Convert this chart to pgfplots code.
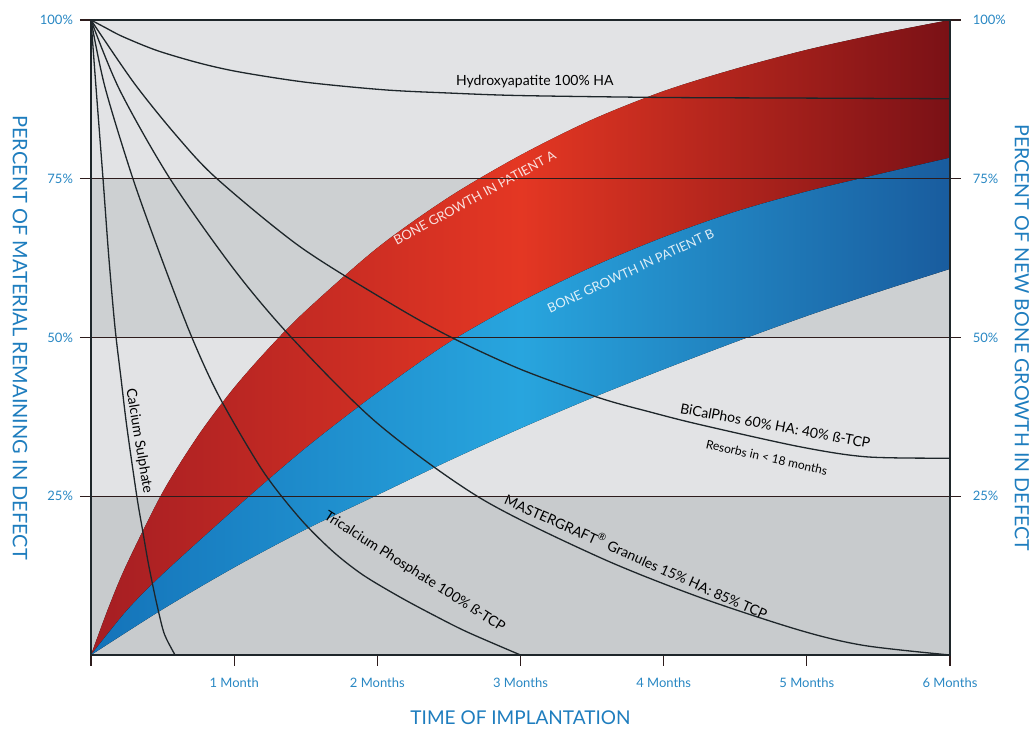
\documentclass[border=0pt]{standalone}
\usepackage{pgfplots}
\pgfplotsset{compat=1.18}
\usepgfplotslibrary{fillbetween}
\usepackage{fontspec}
\setmainfont{Lato}

\definecolor{bandlight}{RGB}{226,227,229}
\definecolor{banddark}{RGB}{205,208,210}
\definecolor{bandlow}{RGB}{200,203,205}
\definecolor{gridc}{RGB}{45,28,28}
\definecolor{curvec}{RGB}{30,38,42}
\definecolor{labblue}{RGB}{40,135,195}
\definecolor{titleblue}{RGB}{30,125,190}
\definecolor{redL}{RGB}{165,30,35}
\definecolor{redM}{RGB}{228,55,35}
\definecolor{redR}{RGB}{122,17,22}
\definecolor{bluL}{RGB}{20,115,185}
\definecolor{bluM}{RGB}{40,165,222}
\definecolor{bluR}{RGB}{25,92,158}

\begin{document}
\begin{tikzpicture}
\begin{axis}[
    at={(0,0)}, anchor=south west,
    scale only axis, width=429.5pt, height=317.5pt,
    xmin=0, xmax=6, ymin=0, ymax=100,
    axis on top, clip=false,
    axis line style={curvec, line width=0.6pt},
    xtick={0,...,6},
    xticklabels={,1 Month,2 Months,3 Months,4 Months,5 Months,6 Months},
    ytick={25,50,75,100},
    yticklabels={25\%,50\%,75\%,100\%},
    xtick pos=left, ytick pos=both,
    tick align=outside,
    major tick length=5.5pt,
    tick style={gridc, line width=0.6pt},
    ymajorgrids, grid style={gridc, line width=0.7pt},
    ticklabel style={font=\fontsize{6.5}{7}\selectfont, text=labblue},
    xticklabel style={yshift=-2.5pt},
]
% background bands (fill between, so they sit on the same layer as the growth bands)
\addplot[name path=g0, draw=none] coordinates {(0,0) (6,0)};
\addplot[name path=g25, draw=none] coordinates {(0,25) (6,25)};
\addplot[name path=g50, draw=none] coordinates {(0,50) (6,50)};
\addplot[name path=g75, draw=none] coordinates {(0,75) (6,75)};
\addplot[name path=g100, draw=none] coordinates {(0,100) (6,100)};
\addplot[fill=bandlow, draw=none] fill between[of=g0 and g25];
\addplot[fill=bandlight, draw=none] fill between[of=g25 and g50];
\addplot[fill=banddark, draw=none] fill between[of=g50 and g75];
\addplot[fill=bandlight, draw=none] fill between[of=g75 and g100];

% bone growth bands
\addplot[name path=At, draw=none, smooth] coordinates {
 (0,0) (0.125,7.6) (0.25,14.3) (0.5,25.6) (0.75,34.6) (1.0,42.1) (1.25,48.5)
 (1.5,54.2) (2.0,64.1) (2.5,72.1) (3.0,78.7) (3.5,84.3) (4.0,88.8) (4.5,92.3)
 (5.0,95.3) (5.5,97.8) (6,100)};
\addplot[name path=Ab, draw=none, smooth] coordinates {
 (0,0) (0.25,7) (0.5,12.7) (1.0,22.9) (1.5,32.6) (2.0,41.3) (2.5,49.2)
 (3.0,55.6) (3.5,61.1) (4.0,65.8) (4.5,69.8) (5.0,73.0) (5.5,75.7) (6,78.3)};
\addplot[name path=Bb, draw=none, smooth] coordinates {
 (0,0) (0.5,7.2) (1.0,13.8) (1.5,19.8) (2.0,25.2) (2.5,30.6) (3.0,35.7)
 (3.5,40.5) (4.0,45.0) (4.5,49.3) (5,53.4) (5.5,57.2) (6,60.8)};
\addplot[left color=redL, right color=redR, middle color=redM, draw=none]
  fill between[of=At and Ab];
\addplot[left color=bluL, right color=bluR, middle color=bluM, draw=none]
  fill between[of=Ab and Bb];

% resorption curves
\addplot[curvec, line width=0.65pt, smooth] coordinates {
 (0,100) (0.1,98.8) (0.22,97.4) (0.46,95.2) (0.76,93.2) (1.04,91.8) (1.5,90.2)
 (2.05,89.0) (2.5,88.5) (3,88.1) (4,87.8) (5,87.7) (6,87.6)};
\addplot[curvec, line width=0.65pt, smooth] coordinates {
 (0,100) (0.035,89.4) (0.084,75) (0.125,62.5) (0.168,51.5) (0.21,43.5) (0.25,36)
 (0.32,25) (0.36,19.7) (0.40,14.5) (0.45,9) (0.50,4.2) (0.53,2.4) (0.587,0)};
\addplot[curvec, line width=0.65pt, smooth] coordinates {
 (0,100) (0.098,89.4) (0.293,75) (0.5,62) (0.705,50) (0.90,40.5) (1.20,29)
 (1.46,21.5) (1.69,16.3) (1.9,12.6) (2.16,9.1) (2.4,6.2) (2.63,3.6) (3.0,0)};
\addplot[curvec, line width=0.65pt, smooth] coordinates {
 (0,100) (0.2,89) (0.552,75) (1.0,60.7) (1.40,50) (2.0,36.5) (2.72,24.7)
 (3.55,15.4) (4.25,9.1) (4.95,3.9) (5.4,1.5) (6,0)};
\addplot[curvec, line width=0.65pt, smooth] coordinates {
 (0,100) (0.3,90.1) (0.6,81.7) (0.88,75) (1.46,64.3) (2.09,55.4) (2.51,50.1) (3.0,45)
 (3.55,40.5) (3.90,38.3) (4.25,36.3) (4.95,32.8) (5.42,31.2) (6,31)};

% curve labels
\node[font=\fontsize{7}{8}\selectfont] at (axis cs:3.10,90.3) {Hydroxyapatite 100\% HA};
\node[font=\fontsize{6.5}{7}\selectfont, text=white, opacity=0.85, rotate=28.6]
  at (axis cs:2.68,72.0) {BONE GROWTH IN PATIENT A};
\node[font=\fontsize{6.5}{7}\selectfont, text=white, opacity=0.85, rotate=24.9]
  at (axis cs:3.77,60.5) {BONE GROWTH IN PATIENT B};
\node[font=\fontsize{7}{8}\selectfont, rotate=-80.5] at (axis cs:0.335,33.7) {Calcium Sulphate};
\node[font=\fontsize{7}{8}\selectfont, rotate=-32.5] at (axis cs:2.26,13.1) {Tricalcium Phosphate 100\% ß-TCP};
\node[font=\fontsize{7}{8}\selectfont, rotate=-24] at (axis cs:3.81,15.6) {MASTERGRAFT\textsuperscript{®} Granules 15\% HA: 85\% TCP};
\node[font=\fontsize{7}{8}\selectfont, rotate=-10.5] at (axis cs:4.78,36.1) {BiCalPhos 60\% HA: 40\% ß-TCP};
\node[font=\fontsize{6}{7}\selectfont, rotate=-12.8] at (axis cs:4.72,31.1) {Resorbs in < 18 months};

% right tick labels
\node[anchor=west, font=\fontsize{6.5}{7}\selectfont, text=labblue] at (axis cs:6.11,25) {25\%};
\node[anchor=west, font=\fontsize{6.5}{7}\selectfont, text=labblue] at (axis cs:6.11,50) {50\%};
\node[anchor=west, font=\fontsize{6.5}{7}\selectfont, text=labblue] at (axis cs:6.11,75) {75\%};
\node[anchor=west, font=\fontsize{6.5}{7}\selectfont, text=labblue] at (axis cs:6.11,100) {100\%};

% axis titles
\node[rotate=-90, font=\fontsize{10}{11}\selectfont, text=titleblue]
  at (axis cs:-0.496,50) {PERCENT OF MATERIAL REMAINING IN DEFECT};
\node[rotate=-90, font=\fontsize{9.8}{11}\selectfont, text=titleblue]
  at (axis cs:6.503,50) {PERCENT OF NEW BONE GROWTH IN DEFECT};
\node[font=\fontsize{9.5}{10}\selectfont, text=titleblue]
  at (axis cs:3,-9.92) {TIME OF IMPLANTATION};
\end{axis}
\pgfresetboundingbox
\path[use as bounding box] (-45.5pt,-37pt) rectangle (472pt,327.5pt);
\end{tikzpicture}
\end{document}
